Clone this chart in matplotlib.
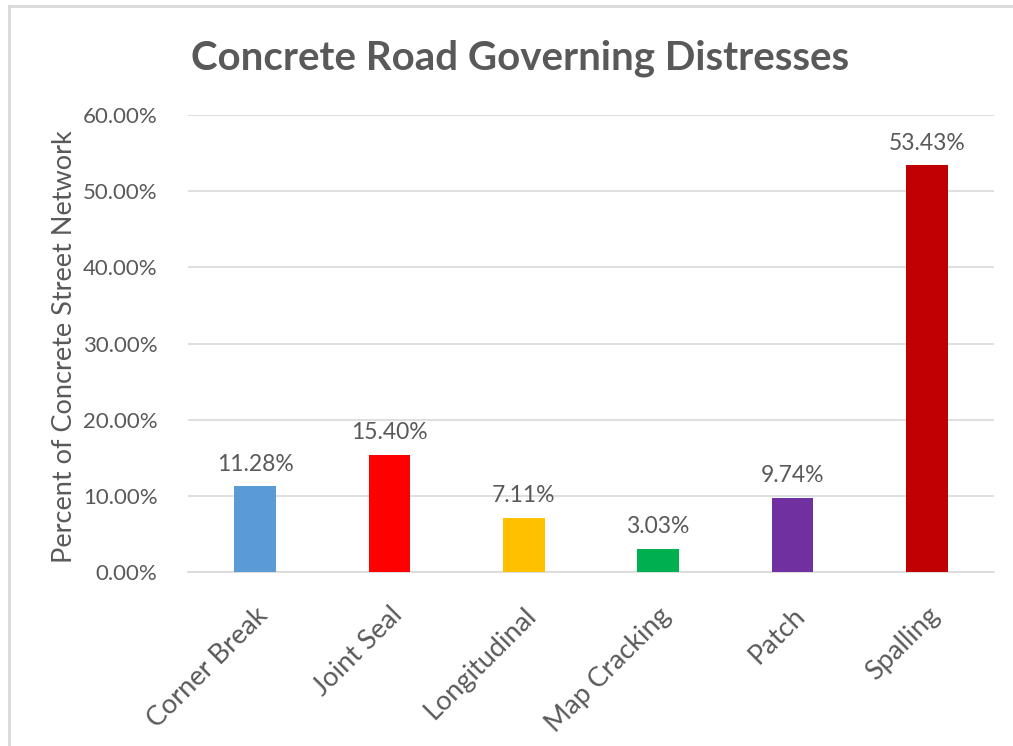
import matplotlib
matplotlib.use("Agg")
import matplotlib.pyplot as plt
from matplotlib.lines import Line2D
from matplotlib.ticker import FuncFormatter

categories = ["Corner Break", "Joint Seal", "Longitudinal", "Map Cracking", "Patch", "Spalling"]
values = [11.28, 15.40, 7.11, 3.03, 9.74, 53.43]
colors = ["#5B9BD5", "#FF0000", "#FFC000", "#00B050", "#7030A0", "#C00000"]

TEXT = "#595959"
GRID = "#D9D9D9"

plt.rcParams["font.family"] = ["Lato", "DejaVu Sans"]

fig = plt.figure(figsize=(10.13, 7.46), dpi=100)
ax = fig.add_axes([188 / 1013, (746 - 572) / 746, 806 / 1013, 457 / 746])

x = range(len(categories))
ax.bar(x, values, width=0.31, color=colors, zorder=3)
for xi, v in zip(x, values):
    ax.text(xi, v + 1.5, f"{v:.2f}%", ha="center", va="bottom",
            fontsize=16.5, color=TEXT)

ax.set_xlim(-0.5, len(categories) - 0.5)
ax.set_ylim(0, 60)
ax.set_yticks(range(0, 61, 10))
ax.yaxis.set_major_formatter(FuncFormatter(lambda v, _: f"{v:.2f}%"))
ax.grid(axis="y", color=GRID, linewidth=1.2, zorder=0)
ax.set_axisbelow(True)

for s in ["top", "right", "left"]:
    ax.spines[s].set_visible(False)
ax.spines["bottom"].set_color(GRID)
ax.spines["bottom"].set_linewidth(1.2)

ax.set_xticks(list(x))
ax.set_xticklabels(categories, rotation=45, ha="right", rotation_mode="anchor",
                   fontsize=19.5, color=TEXT)
ax.tick_params(axis="x", length=0, pad=22)
ax.tick_params(axis="y", length=0, pad=22, labelsize=16, labelcolor=TEXT)

fig.text(65 / 1013, (746 - 347) / 746, "Percent of Concrete Street Network",
         rotation=90, ha="center", va="center", fontsize=19.5, color=TEXT)

fig.text(0.513, 0.922, "Concrete Road Governing Distresses", ha="center", va="center",
         fontsize=29, fontweight="bold", color=TEXT)

# chart frame: only top and left edges are visible in the crop
bx, by = 9 / 1013, 1 - 6 / 746
fig.lines.append(Line2D([bx, 1], [by, by], transform=fig.transFigure,
                        color=GRID, linewidth=2))
fig.lines.append(Line2D([bx, bx], [0, by], transform=fig.transFigure,
                        color=GRID, linewidth=2))

fig.savefig("out.png", dpi=100)
